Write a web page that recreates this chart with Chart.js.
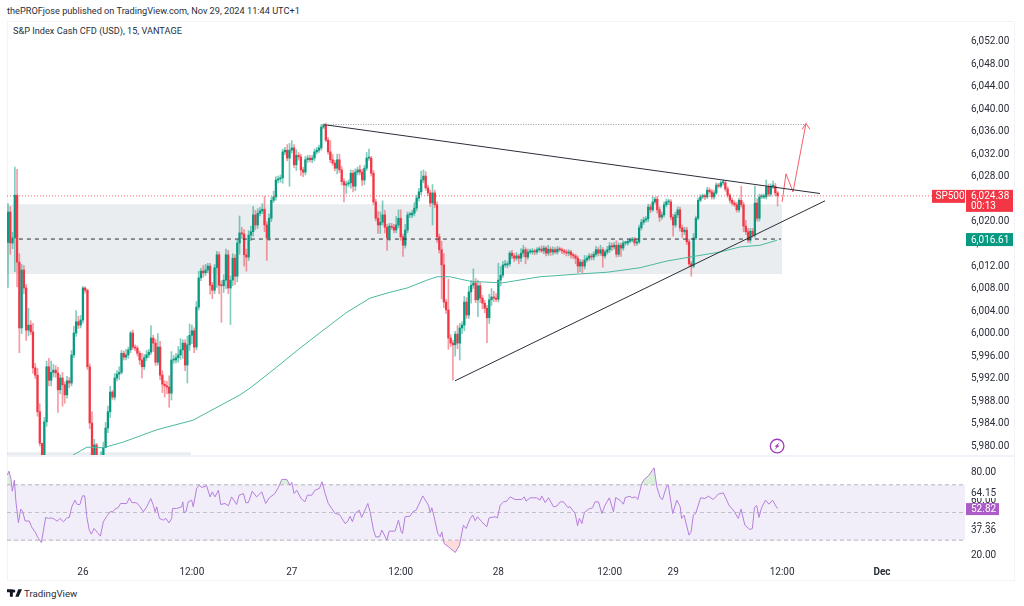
<!DOCTYPE html>
<html>
<head>
<meta charset="utf-8">
<title>S&amp;P Index Cash CFD (USD), 15, VANTAGE</title>
<script src="https://cdn.jsdelivr.net/npm/chart.js@4/dist/chart.umd.js"></script>
<style>
  html,body{margin:0;padding:0;background:#fff;overflow:hidden}
  body{width:1024px;height:606px;position:relative;font-family:Roboto,"Noto Sans",sans-serif;color:#131722}
  canvas{position:absolute;left:0}
  #frame{position:absolute;left:7px;top:21px;width:1008px;height:560px;border:1px solid #f0f3fa;box-sizing:border-box}
  #divider{position:absolute;left:7px;top:455px;width:1008px;height:2px;background:#f0f3fa}
  #published{position:absolute;left:7px;top:5px;font-size:9.2px;line-height:12px;white-space:nowrap;color:#2a2e39}
  #symbol{position:absolute;left:13px;top:25px;font-size:9.2px;line-height:12px;white-space:nowrap;color:#2a2e39}
  #brand{position:absolute;left:24px;top:587px;font-size:9.7px;line-height:13px;white-space:nowrap;color:#2a2e39}
  #logo{position:absolute;left:7px;top:589px}
</style>
</head>
<body>
<div id="frame"></div>
<div id="divider"></div>
<div id="published">thePROFjose published on TradingView.com, Nov 29, 2024 11:44 UTC+1</div>
<div id="symbol">S&amp;P Index Cash CFD (USD), 15, VANTAGE</div>
<canvas id="priceChart" width="1024" height="456" style="top:0"></canvas>
<canvas id="rsiChart" width="1024" height="124" style="top:456px"></canvas>
<svg id="logo" width="15" height="8" viewBox="0 0 36 18"><path fill="#131722" d="M14 18H7V7H0V0h14zM28 18h-8L27 0h9zM20 4a3.6 3.6 0 1 1-7.2 0 3.6 3.6 0 0 1 7.2 0z"/></svg>
<div id="brand">TradingView</div>

<script>
// 15 minute candles, one row = 20 bars. Opens follow the previous close.
const firstOpen = 6016.1;
const closes = [
  6021.5,6016,6016.9,6024.5,6012.6,6000.9,6011.2,6008,6000.5,6001.4,6000.2,5993.8,5992.5,5986,5980.4,5977.4,5984.2,5994,5991.6,5993,
  5993.4,5992.9,5989.9,5992,5990.8,5989,5991.5,5991.1,5996.1,6000,6002,6001.4,6002.3,6008,6007.6,5994,5984,5977.8,5980.1,5976.5,
  5977,5977.9,5979.6,5983.1,5986,5989.5,5988.6,5992,5992.7,5993,5996.4,5995.7,5996.1,5997,6000,5997.5,5997.3,5996.4,5995.2,5994,
  5995.6,5996.1,5996.6,5999.1,5998.2,5994.8,5997.5,5992.5,5990.9,5990.6,5990.4,5989.3,5995.2,5995.2,5995.6,5996.1,5997,5998.2,5994.3,5997.9,
  5999.6,6000.4,5997.5,6004.6,6009.8,6011,6010.7,6011.2,6011.9,6008.5,6007.6,6011.6,6013.9,6008.5,6008.4,6009.4,6013.9,6008,6009.4,6013.3,
  6010.1,6016,6017.8,6017.6,6013.9,6013.5,6017.4,6018,6021,6019.2,6021.3,6021.7,6022,6019.2,6016.9,6020.4,6023.6,6024.2,6027.2,6027.4,
  6027.6,6032.2,6032.5,6031.1,6032.5,6032.9,6029.9,6031.6,6031.3,6029,6028.6,6030.8,6031.1,6030.8,6031.1,6032.2,6032.5,6032.9,6036.6,6037,
  6034.3,6032.2,6030.8,6030.2,6029.3,6030.8,6029,6026.9,6026.3,6026.5,6026.7,6028.4,6026.1,6028.6,6029,6028.6,6027.2,6029.3,6031.1,6031.1,
  6028.4,6023.3,6020.4,6019.2,6019.7,6021,6018.8,6016.9,6019,6018.8,6018.3,6019.2,6020.4,6017.1,6015.6,6018.3,6021,6021,6021.3,6022.2,
  6024,6025.1,6027.2,6027.9,6025.8,6024.9,6023.1,6024.9,6022.8,6017.1,6014.8,6012.1,6005.5,6004.1,5999.1,5998.2,5997.9,5999.8,5998.2,6000.9,
  6001.4,6005.5,6003.2,6007.3,6008.5,6008.9,6005.9,6008.4,6006.2,6005.3,6004.4,6002.7,6005.9,6006.4,6006.2,6006,6009.4,6010.3,6012.1,6012.1,
  6012.3,6014.2,6013.7,6013.3,6013.7,6013.3,6014.2,6014.8,6013.5,6014.4,6014.4,6014.6,6014.4,6014.8,6014.9,6014.6,6015.1,6014.2,6014.9,6014.4,
  6014.8,6014.4,6014.9,6014.8,6014.6,6014.4,6014.2,6014.4,6013.9,6013.7,6013.3,6011.9,6012.6,6011.9,6013,6013.3,6013.7,6013.5,6014,6014.8,
  6014.2,6014.8,6013.7,6014.4,6014.8,6015.5,6015.3,6015.6,6014,6015.6,6015.1,6016,6016,6016.3,6016.5,6016.7,6016,6016.2,6018.7,6019.7,
  6020.1,6020.3,6022.4,6021.9,6023.3,6023.8,6021.9,6020.6,6021,6022.8,6023.3,6023.3,6020.6,6019.2,6021,6021.9,6018.7,6018,6018.3,6016.2,
  6012.3,6011.9,6016.9,6020.4,6023.6,6024.2,6024.4,6024.2,6025.4,6025.1,6024.2,6024.9,6026.3,6026.1,6026.7,6026.7,6025.6,6024.5,6023.6,6023.1,
  6022.8,6021.9,6023.6,6022.8,6019,6018,6016.5,6018.1,6017.4,6023.1,6020.4,6024.2,6024.2,6024.2,6026,6024.7,6026.1,6026.1,6024.9,6024.38
];
// wick lengths above and below the candle body, in index points
const upperWicks = [
  1.5,1,1,5,4.6,1.5,1,.8,.6,3,.8,1.5,.8,1.2,1.4,0,.8,1,1.5,2,
  1,.8,1,.6,1,.5,.8,.6,.8,1.2,2,1,.8,.3,.2,.2,.5,2,1,.3,
  .5,1,1,1,1,1,.3,.8,.6,1,.5,.4,1,.5,.3,.5,.4,.4,.4,1.2,
  .6,.8,.5,2.2,.5,.7,2.4,1,.8,.6,.8,2,1.5,.8,.8,1.5,2,.6,.6,1.5,
  2,1,.5,1,1.2,.5,1,1,.5,.5,.5,.6,.6,.5,.8,1,1,.8,.8,.8,
  .6,.5,3,1,.8,1,.8,1,1.5,.8,.8,.6,1,2.3,.6,.8,.6,1,.6,.5,
  .5,.5,.5,1,1.2,1.3,.6,1,.5,.5,.5,.6,.5,.5,.5,.5,.5,.5,.5,.2,
  .3,.5,2,1,.5,1,1,.6,.5,.5,.5,.6,.5,.6,.5,.8,.5,.5,1,1.6,
  .3,.5,.5,1.2,1.8,2.5,.8,.5,.5,.5,.5,1.5,1.5,1.5,.5,1,.5,.5,.5,1,
  .5,.6,1.6,1.1,.8,.5,.5,1.5,.5,.5,.5,1.5,2,.5,5.5,.6,.5,.5,1.5,.8,
  .6,1,.8,1,.8,2.5,.8,1,.6,.5,.5,.5,1,1.5,1,.8,3,1.5,.6,.8,
  .4,.3,.5,.4,.6,.3,.8,.8,.4,.5,.5,.4,.3,.4,.4,.6,.4,.3,.7,.4,
  .5,.4,.5,.4,.3,.3,.4,.4,.3,.3,.3,.4,.5,.4,.8,.4,.4,.4,.4,.6,
  .4,.8,.4,.4,.6,.6,.5,.5,.8,.4,.4,.4,.3,.3,.3,.3,.3,.3,.5,.5,
  .5,.4,.5,.5,1,.3,.5,.5,.5,.5,.5,.5,.4,.5,.5,.5,.5,.5,.5,.5,
  .5,.4,.8,.4,.4,.4,.3,.3,.5,.4,.4,.5,.4,.3,.3,.5,.4,.4,.3,.4,
  .4,.4,.4,2.5,.5,1,.6,.5,.5,3,.8,.5,.5,.5,1.2,.5,.4,.9,.5,.3
];
const lowerWicks = [
  8,2,1,6,4.4,4.4,1,1,1.8,1,.5,1,.6,.8,.5,0,0,.8,1,1,
  .8,.8,4,.7,3.8,1.5,.6,.8,.5,.5,.6,.6,.5,.5,.5,.5,1,.5,1,0,
  0,0,0,0,.8,1,.4,.5,.5,1,.3,.5,.5,.6,.5,.4,.5,.5,.8,2,
  .5,.5,.5,.4,1.5,.6,.5,.8,1.5,2,1.2,2.5,1.2,.6,.5,.8,.8,1.5,1,3.2,
  1,1.5,1,.5,.5,.5,.8,.5,.5,1.6,1.5,.6,3.5,1.5,6.5,1.2,1.5,1,6.5,1,
  1.5,1,2,.8,2,2.5,.6,1,.8,.8,.6,.5,.5,1.2,4,.5,.6,.4,.6,.5,
  .6,1,.5,.5,5,.5,.5,1,.6,1,.8,.5,.5,.4,.5,.5,.4,.4,.4,.3,
  .3,.4,.5,.4,.5,1,.5,.6,3,1.5,.5,1,1,.8,.5,.5,1,.8,.4,.4,
  .5,.5,.5,1.5,1.5,.5,1,2.2,.5,.4,.5,.5,.5,.6,2,.5,.5,.5,.5,.5,
  .5,.5,.5,.5,.4,.5,.6,3.9,.5,1,.6,6,1,.6,2,.6,6.3,2,1,3,
  1,1,.6,.6,2,.6,.5,3,.8,1,.8,4.4,1,1,.6,.4,.5,1,.4,.4,
  .5,.4,.5,.6,.4,1,.6,.6,1.2,.4,.3,.4,.5,.4,.4,.3,.5,.5,.4,.6,
  .5,.3,.4,.3,.5,.4,.5,.5,.6,.5,1,1.2,1,1.2,.5,.4,.4,.5,.5,.4,
  .5,.4,2,.4,.4,.5,.6,.4,.5,.4,1.5,.4,.4,.4,.3,.3,.5,.4,.3,.4,
  .4,.4,.5,.5,.3,.4,.6,.8,.4,.4,.4,.5,.5,2,.4,.5,.6,1,.5,.5,
  .4,1.8,.3,.3,.3,.3,.3,.5,.3,.3,.4,.4,.3,.3,.3,.4,.4,.4,.5,.4,
  .3,.4,.4,.4,1,.5,.4,.5,.4,.4,.5,.5,.3,.3,.4,.4,.4,.4,.5,1.8
];

// moving average, traced at its bends
const emaBars   = [28.6,34.8,41.9,50.7,65.6,81.5,92.1,102.2,106.6,116.7,128.6,140.5,149.3,159.5,167,175.8,184.6,189,194.7,203.5,217.6,234.4,252,263.9,278.4,290.3,300.4,313.7,322.5,331.3,338.8];
const emaValues = [5978.3,5979.7,5979.6,5980.6,5982.8,5984.5,5986.8,5989,5990.2,5993.4,5997.3,6001,6003.7,6006.2,6007.1,6008,6009.4,6010,6010,6009.2,6008.9,6010,6010.5,6010.8,6011.6,6012.8,6013.5,6014.4,6015.3,6015.6,6016.5];

// RSI, traced at its bends
const rsiBars = [
  -.3,.4,1.3,1.9,2.8,3.5,4.6,5.6,6.5,7.5,9.4,10.4,11.9,13.4,14.7,16.6,17.8,19.2,20.4,21.7,22.9,24.4,25.9,27,28.1,29.5,30.5,31.7,32.8,33.8,34.7,35.8,36.7,37.9,39.4,40.7,
  42,43.5,45,46.1,47.1,48.6,49.6,52.3,53.5,54.5,56.7,58.2,59.6,61.1,62.9,64,64.8,65.5,66.7,68.4,69.6,70.9,72.1,72.5,74.3,76.5,77,77.5,78.4,79.4,80.9,81.6,83.1,84.2,85.3,87.5,
  89,90,91.2,92.7,93.7,95.6,97.1,98.5,100.7,101.8,103.7,104.8,105.9,107.6,109.5,111.8,113.5,115.1,117.6,119.1,120.6,122.8,124.2,125,126,127.2,129.1,130.8,131.9,133.8,135.2,137.2,138.3,139.7,141.1,142.6,144.1,146,
  148.5,149.5,150.7,151.7,152.9,154.7,155.8,158.5,159.5,161,162,163.6,164.7,166.9,167.9,170.5,172,173.2,173.8,174.9,177.1,178.3,179.8,182.7,185.2,186,186.7,187.7,189.3,190.4,191.1,192.1,194,197,198.9,
  200.6,201.8,203.6,204.7,205.8,206.8,208.7,210.9,211.9,214.6,215.6,216.8,218.3,219.7,221.2,223.4,226.3,227.4,228.2,230,232.9,234.4,235.1,236.6,238.1,240.3,241.7,243.2,244.7,246.6,247.6,249.8,250.9,251.7,252.8,253.9,
  255.7,257.5,258.6,260.1,261.6,263,264.9,266.7,267.7,269.6,271.1,271.9,274,274.8,276.3,277.4,279.2,280.2,282.1,284.6,285.8,287.3,288.3,290.2,290.9,292.8,294.6,296.1,296.7,297.8,300,300.9,301.9,302.9,305.1,307,308.5,
  310.7,312.9,315.1,317.6,319.8,321.7,322.9,324.6,326.8,327.9,328.8,329.8,330.8,332,333.7,335.2,336.8,338.9
];
const rsiValues = [
  77,79.9,74.6,65.4,73.4,57.7,42.5,52.4,50.5,44,43.7,39.6,36,31.2,28.3,46.4,45.7,46.1,45.2,43.7,45.7,43.3,46.1,46.4,54.1,58.9,55.8,55.8,62,62,46.9,37.2,34.3,38.4,35.5,32.9,
  43.3,47.3,50.5,50.5,52.4,53.6,56.5,56.5,60.6,57.2,57,54.1,50.5,54.1,60.1,55.3,50.5,54.1,45.7,44.5,45.7,42.5,45.7,52.9,52.9,54.1,57.7,50,50.5,57.7,58.9,54.1,67.4,69.8,68.1,69.3,
  61.3,64.9,61.3,66.1,55.8,56.5,54.8,61.3,55.8,62.5,63.7,57,57.2,65.4,61.3,64.9,56.5,60.6,63.7,68.1,73.9,73.9,69.8,71.7,63.7,66.1,60.1,57.7,62.5,62.5,66.1,67.4,72.2,63.7,56.5,52.9,49.3,48.6,
  42,43.3,47.3,43.3,49.3,51.7,46.4,56.5,50.5,37.2,32.4,32.4,37.2,30,36.5,36.5,44.5,36,34.8,46.9,47.3,50.5,51.7,62,55.3,50,53.4,46.9,34.8,32.4,36,27.6,25.2,21.1,26.4,
  40.8,38.4,45.7,48.1,44,46.9,43.3,39.6,46.1,46.9,46.1,55.3,57.7,58.2,61.3,59.4,59.4,61.3,58.2,60.6,60.6,58.9,62,57.2,60.6,54.1,54.6,57.7,57.7,53.6,54.1,49.3,40.4,45.7,42,50,
  52.4,53.4,57.7,57.7,49.3,55.3,60.6,50.5,60.8,58.9,56,60.8,61.8,60.6,61.3,59.4,71,73.9,76.5,82.3,68.6,60.6,59.4,69.3,69.3,49.3,58.9,54.1,45.7,48.1,33.6,36,48.1,49.3,60.6,60.1,61.8,
  59.4,63.3,64.2,55.3,51,45.7,52.4,40.8,37.7,38.4,53.6,55.1,46.4,53.6,58.9,56,58.9,52.82
];

// axis ticks
const priceTicks = [6052,6048,6044,6040,6036,6032,6028,6024,6020,6016,6012,6008,6004,6000,5996,5992,5988,5984,5980];
const rsiTicks   = [80,60,40,20];
const timeBars   = [33,81,125,173,216,265,293,341,385];
const timeLabels = ['26','12:00','27','12:00','28','12:00','29','12:00','Dec'];

// drawings on the price pane, as [bar, price]
const trendDown   = [[138.8,6037.07],[357.7,6024.8]];
const trendUp     = [[196.9,5991.5],[359.9,6023.5]];
const targetLevel = [[138.8,6037.07],[351.5,6037.07]];
const midLevel    = [[4.8,6016.7],[340.5,6016.7]];
const arrowPath   = [[341,6023.3],[342.7,6028.3],[345.8,6025.1],[351.5,6037.25]];
const arrowHead   = [[349.8,6036.2],[351.5,6037.25],[353.3,6036.2]];
const zoneMain    = {from:-.4, to:341, top:6022.9, bottom:6010.5};
const zoneLow     = {from:-.4, to:80.6, top:5978.8, bottom:5970};

const lastPrice = 6024.38, lastEma = 6016.61, lastRsi = 52.82;
const rsiUpper = 64.15, rsiLower = 37.36;

const GREEN = '#089981', RED = '#f23645', PURPLE = '#b57edc';
const FONT = 'Roboto';
const xMin = -.44, xMax = 422;

const pts = arr => arr.map(p => ({x:p[0], y:p[1]}));
const money = v => v.toLocaleString('en-US',{minimumFractionDigits:2,maximumFractionDigits:2});

const opens = closes.map((c,i) => i ? closes[i-1] : firstOpen);
const isUp = i => closes[i] >= opens[i];

// tick labels must not shrink the pane
const fitAxis = s => { s.width = 58; s.paddingTop = 0; s.paddingBottom = 0; };

const lineDs = (data, color, extra) => Object.assign({
  type:'line', data, borderColor:color, borderWidth:1, pointRadius:0, tension:0, order:2
}, extra);

const zoneDs = z => ({
  type:'line', data:[{x:z.from,y:z.top},{x:z.to,y:z.top}], borderWidth:0, pointRadius:0,
  backgroundColor:'rgba(120,144,156,0.16)', fill:{target:{value:z.bottom}}, order:10
});

// price tags, the alert badge
const priceTags = {
  id:'priceTags',
  afterDraw(chart){
    const {ctx, scales:{x,y}} = chart;
    const yLast = y.getPixelForValue(lastPrice), yEma = y.getPixelForValue(lastEma);
    ctx.save();
    ctx.textBaseline = 'middle';
    ctx.font = '10px ' + FONT;
    ctx.fillStyle = RED;
    ctx.fillRect(932,yLast-6,33,13);
    ctx.fillRect(966,yLast-6,47,22);
    ctx.fillStyle = GREEN;
    ctx.fillRect(966,yEma-6.5,47,13);
    ctx.fillStyle = '#fff';
    ctx.textAlign = 'left';
    ctx.fillText('SP500',935.5,yLast+.5);
    ctx.fillText(money(lastPrice),971,yLast+.5);
    ctx.fillText('00:13',971,yLast+10.5);
    ctx.fillText(money(lastEma),971,yEma+.5);

    const cx = x.getPixelForValue(338.8), cy = y.getPixelForValue(5979.9);
    ctx.strokeStyle = '#a13bbd';
    ctx.fillStyle = '#a13bbd';
    ctx.lineWidth = 1.3;
    ctx.beginPath(); ctx.arc(cx,cy,6.8,0,Math.PI*2); ctx.stroke();
    ctx.beginPath();
    ctx.moveTo(cx+2.6,cy-4); ctx.lineTo(cx-2.6,cy+.6); ctx.lineTo(cx-.4,cy+.6);
    ctx.lineTo(cx-2.6,cy+4); ctx.lineTo(cx+2.6,cy-.6); ctx.lineTo(cx+.4,cy-.6);
    ctx.closePath(); ctx.fill();
    ctx.restore();
  }
};

// the two band labels and the last value sit over the 60 and 40 ticks
const rsiTags = {
  id:'rsiTags',
  afterDraw(chart){
    const {ctx, scales:{y}} = chart;
    const yLast = y.getPixelForValue(lastRsi);
    ctx.save();
    ctx.fillStyle = '#fff';
    ctx.fillRect(966,31,48,11);
    ctx.fillRect(966,yLast-5.5,48,12);
    ctx.fillRect(966,68,48,12);
    ctx.font = '10px ' + FONT;
    ctx.textBaseline = 'middle';
    ctx.fillStyle = '#2a2e39';
    ctx.fillText(money(rsiUpper),971,37);
    ctx.fillText(money(rsiLower),971,74);
    ctx.fillStyle = '#ab5cc7';
    ctx.fillRect(966,yLast-5.5,33,12);
    ctx.fillStyle = '#fff';
    ctx.fillText(money(lastRsi),971,yLast+.5);
    ctx.restore();
  }
};

new Chart(document.getElementById('priceChart'), {
  type:'bar',
  data:{
    datasets:[
      zoneDs(zoneMain),
      zoneDs(zoneLow),
      { // wicks
        data:closes.map((c,i) => ({x:i, y:[Math.min(c,opens[i])-lowerWicks[i], Math.max(c,opens[i])+upperWicks[i]]})),
        backgroundColor:closes.map((c,i) => isUp(i) ? 'rgba(8,153,129,0.5)' : 'rgba(242,54,69,0.5)'),
        barThickness:1, grouped:false, order:6
      },
      { // bodies
        data:closes.map((c,i) => ({x:i, y:[opens[i],c]})),
        backgroundColor:closes.map((c,i) => isUp(i) ? GREEN : RED),
        barThickness:1.6, minBarLength:1, grouped:false, order:5
      },
      lineDs(emaBars.map((b,i) => ({x:b,y:emaValues[i]})), '#4cb8a0', {order:4}),
      lineDs(pts([[xMin,lastPrice],[xMax,lastPrice]]), 'rgba(242,54,69,0.75)', {borderDash:[1,2], order:3}),
      lineDs(pts(midLevel), '#2a2e39', {borderDash:[4,4]}),
      lineDs(pts(targetLevel), '#9598a1', {borderDash:[1,1.5]}),
      lineDs(pts(trendDown), '#2a2e39'),
      lineDs(pts(trendUp), '#2a2e39'),
      lineDs(pts(arrowPath), 'rgba(242,54,69,0.8)'),
      lineDs(pts(arrowHead), 'rgba(242,54,69,0.8)')
    ]
  },
  options:{
    responsive:false,
    animation:false,
    layout:{padding:{left:7,top:22,right:0,bottom:1}},
    plugins:{legend:{display:false},tooltip:{enabled:false}},
    scales:{
      x:{type:'linear',min:xMin,max:xMax,offset:false,display:false},
      y:{
        position:'right',
        min:5978.31,max:6055.29,
        afterFit:fitAxis,
        afterBuildTicks:s => { s.ticks = priceTicks.map(v => ({value:v})); },
        grid:{display:false,drawTicks:false},
        border:{display:false},
        ticks:{autoSkip:false,padding:5,labelOffset:1,color:'#2a2e39',font:{family:FONT,size:10},callback:money}
      }
    }
  },
  plugins:[priceTags]
});

const rsiPoints = rsiBars.map((b,i) => ({x:b,y:rsiValues[i]}));

new Chart(document.getElementById('rsiChart'), {
  type:'line',
  data:{
    datasets:[
      {data:pts([[xMin,70],[xMax-.4,70]]),borderWidth:0,pointRadius:0,backgroundColor:'rgba(126,87,194,0.1)',fill:{target:{value:30}},order:9},
      {data:rsiPoints,borderWidth:0,pointRadius:0,fill:{target:{value:70},above:'rgba(76,175,80,0.2)',below:'transparent'},order:8},
      {data:rsiPoints,borderWidth:0,pointRadius:0,fill:{target:{value:30},above:'transparent',below:'rgba(255,82,82,0.2)'},order:8},
      lineDs(pts([[xMin,70],[xMax-.4,70]]),'#b5b2bf',{borderDash:[4,3],order:6}),
      lineDs(pts([[xMin,50],[xMax-.4,50]]),'#c3c0cc',{borderDash:[4,3],order:6}),
      lineDs(pts([[xMin,30],[xMax-.4,30]]),'#b5b2bf',{borderDash:[4,3],order:6}),
      lineDs(rsiPoints,PURPLE,{order:1})
    ]
  },
  options:{
    responsive:false,
    animation:false,
    layout:{padding:{left:7,top:1,right:0,bottom:0}},
    plugins:{legend:{display:false},tooltip:{enabled:false}},
    scales:{
      x:{
        type:'linear',min:xMin,max:xMax,
        afterFit:s => { s.height = 18; s.paddingLeft = 0; s.paddingRight = 0; },
        afterBuildTicks:s => { s.ticks = timeBars.map(v => ({value:v})); },
        grid:{display:false,drawTicks:false},
        border:{display:false},
        ticks:{
          autoSkip:false,maxRotation:0,padding:4,color:'#2a2e39',
          font:ctx => ({family:FONT,size:10,weight:ctx.tick && ctx.tick.value === 385 ? 'bold' : 'normal'}),
          callback:v => timeLabels[timeBars.indexOf(v)]
        }
      },
      y:{
        position:'right',
        min:14.2,max:90.12,
        afterFit:fitAxis,
        afterBuildTicks:s => { s.ticks = rsiTicks.map(v => ({value:v})); },
        grid:{display:false,drawTicks:false},
        border:{display:false},
        ticks:{autoSkip:false,padding:5,labelOffset:1.5,color:'#2a2e39',font:{family:FONT,size:10},callback:money}
      }
    }
  },
  plugins:[rsiTags]
});
</script>
</body>
</html>
